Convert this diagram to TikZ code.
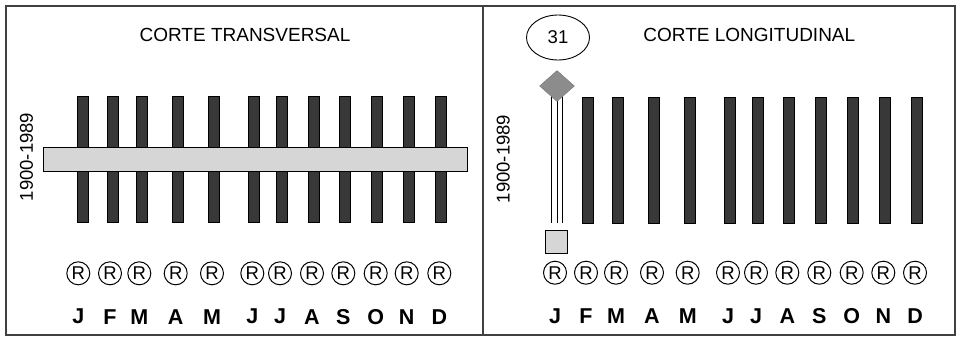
\documentclass[tikz,border=0pt]{standalone}
\usepackage{fontspec}
\setmainfont{Liberation Sans}
\usetikzlibrary{shapes.geometric}
\definecolor{bardark}{HTML}{383838}
\definecolor{bandgray}{HTML}{D6D6D6}
\definecolor{rhombgray}{HTML}{8C8C8C}
\definecolor{framegray}{HTML}{404040}

\begin{document}
\begin{tikzpicture}[x=1pt, y=-1pt,
  frame/.style={framegray, line width=1.3pt},
  bar/.style={fill=bardark, draw=black, line width=0.5pt},
  band/.style={fill=bandgray, draw=black, line width=0.9pt},
  title/.style={font=\fontsize{19}{21}\selectfont, inner sep=0pt},
  yearlbl/.style={font=\fontsize{18.5}{20}\selectfont, rotate=90, inner sep=0pt},
  reg/.style={circle, draw=black, line width=1pt, minimum size=23pt, inner sep=0pt, font=\fontsize{18.5}{18}\selectfont},
  month/.style={font=\bfseries\fontsize{21.5}{21}\selectfont, inner sep=0pt},
]
\useasboundingbox (0,0) rectangle (960,338);

% ===== Frame =====
\draw[frame] (6,6) rectangle (955,335);
\draw[frame] (483,6) -- (483,335);

% ===== Panel (a): corte transversal =====
\node[title] (titleT) at (245,34.5) {CORTE TRANSVERSAL};
\node[yearlbl] (yearsT) at (26.5,157) {1900-1989};

% Bars, registers and months
\foreach \m/\xr/\xb [count=\i] in {J/78.3/82.7, F/110/112.7, M/139.3/141.7,
    A/175.7/178, M/212/213.7, J/252.3/254, J/280/281.7, A/312/313.3,
    S/343.3/344.7, O/375.7/376.7, N/406.7/409, D/439.3/441}{
  \draw[bar] ({\xb-5.5},96) rectangle ({\xb+5.5},222.5);
  \node[reg] (regT\i) at (\xr,273.3) {R};
  \node[month] (monT\i) at (\xr,316.7) {\m};
}

% Cross band
\draw[band] (43.3,147.7) rectangle (467.3,171.7);

% ===== Panel (b): corte longitudinal =====
\node[title] (titleL) at (749.3,34.7) {CORTE LONGITUDINAL};
\node[yearlbl] (yearsL) at (503.3,159) {1900-1989};
\node[ellipse, draw=black, line width=0.9pt, minimum width=63pt, minimum height=45pt,
  inner sep=0pt, font=\fontsize{18.5}{20}\selectfont] (day) at (558,37.5) {31};

% Bars F..D
\foreach \xb in {587.3, 617.7, 653.7, 689.3, 729.7, 757.7, 789, 821,
    852.7, 884.7, 916.7}{
  \draw[bar] ({\xb-5.5},97) rectangle ({\xb+5.5},223.3);
}

% Single column for day 31 of January
\coordinate (colTop) at (557,92);
\coordinate (colBot) at (557,223);
\foreach \dx in {-5.2, 0, 5.4}
  \draw[line width=0.8pt] ([xshift=\dx pt]colTop) -- ([xshift=\dx pt]colBot);
\node[diamond, fill=rhombgray, draw=rhombgray!80!black, line width=0.3pt,
  minimum width=35pt, minimum height=31pt, inner sep=0pt] (rhomb) at (557,86) {};
\node[draw=black, fill=bandgray, line width=0.8pt, minimum size=22.5pt,
  inner sep=0pt] (stamp) at (556.2,242) {};

% Registers and months
\foreach \m/\xr [count=\i] in {J/555, F/586, M/616, A/652, M/687.7, J/728,
    J/756, A/787.3, S/819.3, O/851.7, N/883.3, D/915}{
  \node[reg] (regL\i) at (\xr,272.7) {R};
  \node[month] (monL\i) at (\xr,316.3) {\m};
}

\end{tikzpicture}
\end{document}
